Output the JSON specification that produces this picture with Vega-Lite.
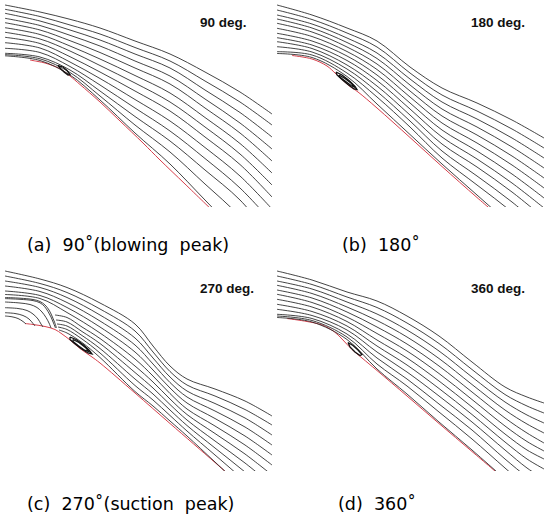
{
"$schema":"https://vega.github.io/schema/vega-lite/v6.json",
"padding":0,
"background":"white",
"config":{"view":{"stroke":null},"title":{"font":"DejaVu Sans","fontSize":17.5,"fontWeight":"normal","color":"#000"}},
"datasets":{
"labels":[
{"panel":"a","x":200,"y":26.5,"text":"90 deg."},
{"panel":"b","x":199,"y":26.5,"text":"180 deg."},
{"panel":"c","x":200,"y":26.5,"text":"270 deg."},
{"panel":"d","x":199,"y":26.5,"text":"360 deg."}
],
"surface":[
{"panel":"a","x":30,"y":60},{"panel":"a","x":38,"y":61.5},{"panel":"a","x":45,"y":63},{"panel":"a","x":55,"y":66.5},{"panel":"a","x":62,"y":70},{"panel":"a","x":70,"y":76},{"panel":"a","x":80,"y":84.5},{"panel":"a","x":100,"y":102},{"panel":"a","x":120,"y":121},{"panel":"a","x":143,"y":143},{"panel":"a","x":160,"y":160},{"panel":"a","x":185,"y":184},{"panel":"a","x":215,"y":213},
{"panel":"b","x":20,"y":55.5},{"panel":"b","x":40,"y":59},{"panel":"b","x":55,"y":66},{"panel":"b","x":63,"y":73},{"panel":"b","x":70,"y":79.5},{"panel":"b","x":78,"y":86.5},{"panel":"b","x":86,"y":92},{"panel":"b","x":105,"y":108},{"panel":"b","x":138,"y":137.5},{"panel":"b","x":170,"y":166.5},{"panel":"b","x":205,"y":197.5},{"panel":"b","x":230,"y":219},
{"panel":"c","x":25,"y":57.5},{"panel":"c","x":33,"y":58.5},{"panel":"c","x":45,"y":60.5},{"panel":"c","x":55,"y":63.5},{"panel":"c","x":62,"y":68},{"panel":"c","x":70,"y":74},{"panel":"c","x":80,"y":82.5},{"panel":"c","x":92,"y":91},{"panel":"c","x":100,"y":97},{"panel":"c","x":135,"y":127},{"panel":"c","x":170,"y":157.5},{"panel":"c","x":215,"y":196.5},{"panel":"c","x":235,"y":214},
{"panel":"d","x":15,"y":52.5},{"panel":"d","x":35,"y":55.5},{"panel":"d","x":50,"y":59},{"panel":"d","x":62,"y":65.5},{"panel":"d","x":70,"y":73},{"panel":"d","x":80,"y":83.5},{"panel":"d","x":90,"y":92},{"panel":"d","x":105,"y":104.5},{"panel":"d","x":135,"y":130},{"panel":"d","x":167,"y":157.5},{"panel":"d","x":200,"y":185.5},{"panel":"d","x":230,"y":211}
],
"bubbles":[
{"panel":"a","loop":"a1","seq":0,"x":58,"y":65.5},{"panel":"a","loop":"a1","seq":1,"x":63,"y":67},{"panel":"a","loop":"a1","seq":2,"x":67,"y":70.5},{"panel":"a","loop":"a1","seq":3,"x":70,"y":74.5},{"panel":"a","loop":"a1","seq":4,"x":68,"y":75},{"panel":"a","loop":"a1","seq":5,"x":64,"y":72},{"panel":"a","loop":"a1","seq":6,"x":60,"y":68},{"panel":"a","loop":"a1","seq":7,"x":58,"y":65.5},
{"panel":"b","loop":"b1","seq":0,"x":64,"y":72},{"panel":"b","loop":"b1","seq":1,"x":70,"y":75},{"panel":"b","loop":"b1","seq":2,"x":77,"y":80.5},{"panel":"b","loop":"b1","seq":3,"x":83,"y":86.5},{"panel":"b","loop":"b1","seq":4,"x":85,"y":89.5},{"panel":"b","loop":"b1","seq":5,"x":82,"y":89},{"panel":"b","loop":"b1","seq":6,"x":76,"y":84.5},{"panel":"b","loop":"b1","seq":7,"x":70,"y":79.5},{"panel":"b","loop":"b1","seq":8,"x":65,"y":75},{"panel":"b","loop":"b1","seq":9,"x":64,"y":72},
{"panel":"b","loop":"b2","seq":0,"x":67,"y":75},{"panel":"b","loop":"b2","seq":1,"x":73,"y":78.5},{"panel":"b","loop":"b2","seq":2,"x":79,"y":83},{"panel":"b","loop":"b2","seq":3,"x":83,"y":87.5},{"panel":"b","loop":"b2","seq":4,"x":79,"y":85.5},{"panel":"b","loop":"b2","seq":5,"x":73,"y":81},{"panel":"b","loop":"b2","seq":6,"x":67,"y":76.5},{"panel":"b","loop":"b2","seq":7,"x":67,"y":75},
{"panel":"c","loop":"c1","seq":0,"x":70,"y":71},{"panel":"c","loop":"c1","seq":1,"x":76,"y":73.5},{"panel":"c","loop":"c1","seq":2,"x":83,"y":78.5},{"panel":"c","loop":"c1","seq":3,"x":89,"y":84},{"panel":"c","loop":"c1","seq":4,"x":92,"y":88},{"panel":"c","loop":"c1","seq":5,"x":88,"y":87},{"panel":"c","loop":"c1","seq":6,"x":81,"y":82.5},{"panel":"c","loop":"c1","seq":7,"x":74,"y":77},{"panel":"c","loop":"c1","seq":8,"x":70,"y":73.5},{"panel":"c","loop":"c1","seq":9,"x":70,"y":71},
{"panel":"c","loop":"c2","seq":0,"x":73,"y":73.5},{"panel":"c","loop":"c2","seq":1,"x":79,"y":76.5},{"panel":"c","loop":"c2","seq":2,"x":86,"y":82},{"panel":"c","loop":"c2","seq":3,"x":89,"y":85.5},{"panel":"c","loop":"c2","seq":4,"x":85,"y":84.5},{"panel":"c","loop":"c2","seq":5,"x":78,"y":79.5},{"panel":"c","loop":"c2","seq":6,"x":73,"y":75.5},{"panel":"c","loop":"c2","seq":7,"x":73,"y":73.5},
{"panel":"d","loop":"d1","seq":0,"x":76,"y":76.5},{"panel":"d","loop":"d1","seq":1,"x":81,"y":79.5},{"panel":"d","loop":"d1","seq":2,"x":86,"y":84},{"panel":"d","loop":"d1","seq":3,"x":90,"y":88.5},{"panel":"d","loop":"d1","seq":4,"x":88,"y":89.5},{"panel":"d","loop":"d1","seq":5,"x":83,"y":86},{"panel":"d","loop":"d1","seq":6,"x":78,"y":81},{"panel":"d","loop":"d1","seq":7,"x":76,"y":76.5}
],
"streams":[
{"panel":"a","line":"L0","x":5,"y":5},{"panel":"a","line":"L0","x":40,"y":12},{"panel":"a","line":"L0","x":70,"y":19.3},{"panel":"a","line":"L0","x":100,"y":28},{"panel":"a","line":"L0","x":135,"y":41},{"panel":"a","line":"L0","x":170,"y":54},{"panel":"a","line":"L0","x":205,"y":72},{"panel":"a","line":"L0","x":240,"y":92},{"panel":"a","line":"L0","x":272,"y":114},
{"panel":"a","line":"L1","x":5,"y":9.3},{"panel":"a","line":"L1","x":40,"y":16.5},{"panel":"a","line":"L1","x":70,"y":25},{"panel":"a","line":"L1","x":100,"y":34},{"panel":"a","line":"L1","x":135,"y":47.5},{"panel":"a","line":"L1","x":170,"y":61},{"panel":"a","line":"L1","x":205,"y":81},{"panel":"a","line":"L1","x":240,"y":102},{"panel":"a","line":"L1","x":272,"y":125},
{"panel":"a","line":"L2","x":5,"y":13.3},{"panel":"a","line":"L2","x":40,"y":21},{"panel":"a","line":"L2","x":70,"y":30},{"panel":"a","line":"L2","x":100,"y":40},{"panel":"a","line":"L2","x":135,"y":54},{"panel":"a","line":"L2","x":170,"y":68},{"panel":"a","line":"L2","x":205,"y":90},{"panel":"a","line":"L2","x":240,"y":112.5},{"panel":"a","line":"L2","x":272,"y":137},
{"panel":"a","line":"L3","x":5,"y":18.3},{"panel":"a","line":"L3","x":40,"y":25.5},{"panel":"a","line":"L3","x":70,"y":35.3},{"panel":"a","line":"L3","x":100,"y":46},{"panel":"a","line":"L3","x":135,"y":61},{"panel":"a","line":"L3","x":170,"y":76},{"panel":"a","line":"L3","x":205,"y":99},{"panel":"a","line":"L3","x":240,"y":123},{"panel":"a","line":"L3","x":272,"y":149},
{"panel":"a","line":"L4","x":5,"y":22.7},{"panel":"a","line":"L4","x":40,"y":30},{"panel":"a","line":"L4","x":70,"y":40.7},{"panel":"a","line":"L4","x":100,"y":52.5},{"panel":"a","line":"L4","x":135,"y":68},{"panel":"a","line":"L4","x":170,"y":84},{"panel":"a","line":"L4","x":205,"y":108},{"panel":"a","line":"L4","x":240,"y":133},{"panel":"a","line":"L4","x":272,"y":161},
{"panel":"a","line":"L5","x":5,"y":27.7},{"panel":"a","line":"L5","x":40,"y":34.5},{"panel":"a","line":"L5","x":70,"y":46},{"panel":"a","line":"L5","x":100,"y":59},{"panel":"a","line":"L5","x":135,"y":75.5},{"panel":"a","line":"L5","x":170,"y":93},{"panel":"a","line":"L5","x":205,"y":117.5},{"panel":"a","line":"L5","x":240,"y":143.5},{"panel":"a","line":"L5","x":272,"y":173},
{"panel":"a","line":"L6","x":5,"y":32.3},{"panel":"a","line":"L6","x":40,"y":39},{"panel":"a","line":"L6","x":70,"y":51},{"panel":"a","line":"L6","x":100,"y":65.5},{"panel":"a","line":"L6","x":135,"y":83},{"panel":"a","line":"L6","x":170,"y":102},{"panel":"a","line":"L6","x":205,"y":127},{"panel":"a","line":"L6","x":240,"y":154},{"panel":"a","line":"L6","x":272,"y":185},
{"panel":"a","line":"L7","x":5,"y":37.3},{"panel":"a","line":"L7","x":40,"y":43.5},{"panel":"a","line":"L7","x":70,"y":56.7},{"panel":"a","line":"L7","x":100,"y":72},{"panel":"a","line":"L7","x":135,"y":91},{"panel":"a","line":"L7","x":170,"y":111},{"panel":"a","line":"L7","x":205,"y":137},{"panel":"a","line":"L7","x":240,"y":164.5},{"panel":"a","line":"L7","x":272,"y":197},
{"panel":"a","line":"L8","x":5,"y":42.7},{"panel":"a","line":"L8","x":40,"y":48},{"panel":"a","line":"L8","x":70,"y":62},{"panel":"a","line":"L8","x":100,"y":78.5},{"panel":"a","line":"L8","x":135,"y":99.5},{"panel":"a","line":"L8","x":170,"y":121},{"panel":"a","line":"L8","x":205,"y":147.5},{"panel":"a","line":"L8","x":240,"y":176},{"panel":"a","line":"L8","x":272,"y":209},
{"panel":"a","line":"L9","x":5,"y":48.3},{"panel":"a","line":"L9","x":40,"y":52.5},{"panel":"a","line":"L9","x":70,"y":66.5},{"panel":"a","line":"L9","x":100,"y":85},{"panel":"a","line":"L9","x":135,"y":108},{"panel":"a","line":"L9","x":170,"y":131},{"panel":"a","line":"L9","x":205,"y":158.5},{"panel":"a","line":"L9","x":240,"y":188},{"panel":"a","line":"L9","x":272,"y":222},
{"panel":"a","line":"L10","x":5,"y":53.3},{"panel":"a","line":"L10","x":40,"y":57},{"panel":"a","line":"L10","x":70,"y":70},{"panel":"a","line":"L10","x":100,"y":91},{"panel":"a","line":"L10","x":135,"y":116.5},{"panel":"a","line":"L10","x":170,"y":141},{"panel":"a","line":"L10","x":205,"y":170},{"panel":"a","line":"L10","x":240,"y":200},{"panel":"a","line":"L10","x":272,"y":238},
{"panel":"a","line":"L11","x":5,"y":54.6},{"panel":"a","line":"L11","x":40,"y":58.8},{"panel":"a","line":"L11","x":70,"y":72.5},{"panel":"a","line":"L11","x":100,"y":96},{"panel":"a","line":"L11","x":135,"y":125},{"panel":"a","line":"L11","x":170,"y":152},{"panel":"a","line":"L11","x":205,"y":184},{"panel":"a","line":"L11","x":240,"y":216},{"panel":"a","line":"L11","x":272,"y":250},
{"panel":"a","line":"L12","x":5,"y":55.8},{"panel":"a","line":"L12","x":40,"y":60.5},{"panel":"a","line":"L12","x":70,"y":75},{"panel":"a","line":"L12","x":100,"y":100},{"panel":"a","line":"L12","x":135,"y":133},{"panel":"a","line":"L12","x":170,"y":164},{"panel":"a","line":"L12","x":205,"y":200},{"panel":"a","line":"L12","x":240,"y":236},{"panel":"a","line":"L12","x":272,"y":268},

{"panel":"b","line":"L0","x":5,"y":5},{"panel":"b","line":"L0","x":40,"y":15},{"panel":"b","line":"L0","x":75,"y":28},{"panel":"b","line":"L0","x":105,"y":41},{"panel":"b","line":"L0","x":138,"y":67},{"panel":"b","line":"L0","x":170,"y":88},{"panel":"b","line":"L0","x":205,"y":103},{"panel":"b","line":"L0","x":240,"y":120},{"panel":"b","line":"L0","x":272,"y":138},
{"panel":"b","line":"L1","x":5,"y":10},{"panel":"b","line":"L1","x":40,"y":19.5},{"panel":"b","line":"L1","x":75,"y":33},{"panel":"b","line":"L1","x":105,"y":47},{"panel":"b","line":"L1","x":138,"y":73},{"panel":"b","line":"L1","x":170,"y":95},{"panel":"b","line":"L1","x":205,"y":111},{"panel":"b","line":"L1","x":240,"y":129},{"panel":"b","line":"L1","x":272,"y":148},
{"panel":"b","line":"L2","x":5,"y":15},{"panel":"b","line":"L2","x":40,"y":24},{"panel":"b","line":"L2","x":75,"y":38},{"panel":"b","line":"L2","x":105,"y":53},{"panel":"b","line":"L2","x":138,"y":79},{"panel":"b","line":"L2","x":170,"y":102},{"panel":"b","line":"L2","x":205,"y":119},{"panel":"b","line":"L2","x":240,"y":138},{"panel":"b","line":"L2","x":272,"y":158},
{"panel":"b","line":"L3","x":5,"y":19},{"panel":"b","line":"L3","x":40,"y":28},{"panel":"b","line":"L3","x":75,"y":42.5},{"panel":"b","line":"L3","x":105,"y":58.5},{"panel":"b","line":"L3","x":138,"y":85},{"panel":"b","line":"L3","x":170,"y":109},{"panel":"b","line":"L3","x":205,"y":127},{"panel":"b","line":"L3","x":240,"y":147},{"panel":"b","line":"L3","x":272,"y":168},
{"panel":"b","line":"L4","x":5,"y":23.3},{"panel":"b","line":"L4","x":40,"y":32},{"panel":"b","line":"L4","x":75,"y":47},{"panel":"b","line":"L4","x":105,"y":64},{"panel":"b","line":"L4","x":138,"y":91},{"panel":"b","line":"L4","x":170,"y":116},{"panel":"b","line":"L4","x":205,"y":135},{"panel":"b","line":"L4","x":240,"y":156},{"panel":"b","line":"L4","x":272,"y":178},
{"panel":"b","line":"L5","x":5,"y":28.3},{"panel":"b","line":"L5","x":40,"y":36.5},{"panel":"b","line":"L5","x":75,"y":51.5},{"panel":"b","line":"L5","x":105,"y":69.5},{"panel":"b","line":"L5","x":138,"y":97},{"panel":"b","line":"L5","x":170,"y":123},{"panel":"b","line":"L5","x":205,"y":143},{"panel":"b","line":"L5","x":240,"y":165},{"panel":"b","line":"L5","x":272,"y":188},
{"panel":"b","line":"L6","x":5,"y":33.3},{"panel":"b","line":"L6","x":40,"y":41},{"panel":"b","line":"L6","x":75,"y":56},{"panel":"b","line":"L6","x":105,"y":75},{"panel":"b","line":"L6","x":138,"y":103},{"panel":"b","line":"L6","x":170,"y":130},{"panel":"b","line":"L6","x":205,"y":151},{"panel":"b","line":"L6","x":240,"y":174},{"panel":"b","line":"L6","x":272,"y":198},
{"panel":"b","line":"L7","x":5,"y":37.7},{"panel":"b","line":"L7","x":40,"y":45},{"panel":"b","line":"L7","x":75,"y":60.5},{"panel":"b","line":"L7","x":105,"y":80.5},{"panel":"b","line":"L7","x":138,"y":109},{"panel":"b","line":"L7","x":170,"y":137},{"panel":"b","line":"L7","x":205,"y":159},{"panel":"b","line":"L7","x":240,"y":183},{"panel":"b","line":"L7","x":272,"y":208},
{"panel":"b","line":"L8","x":5,"y":41.7},{"panel":"b","line":"L8","x":40,"y":48.5},{"panel":"b","line":"L8","x":75,"y":65},{"panel":"b","line":"L8","x":105,"y":86},{"panel":"b","line":"L8","x":138,"y":115},{"panel":"b","line":"L8","x":170,"y":144},{"panel":"b","line":"L8","x":205,"y":167},{"panel":"b","line":"L8","x":240,"y":192},{"panel":"b","line":"L8","x":272,"y":218},
{"panel":"b","line":"L9","x":5,"y":46.7},{"panel":"b","line":"L9","x":40,"y":52},{"panel":"b","line":"L9","x":75,"y":69},{"panel":"b","line":"L9","x":105,"y":91.5},{"panel":"b","line":"L9","x":138,"y":121},{"panel":"b","line":"L9","x":170,"y":151},{"panel":"b","line":"L9","x":205,"y":176},{"panel":"b","line":"L9","x":240,"y":202},{"panel":"b","line":"L9","x":272,"y":229},
{"panel":"b","line":"L10","x":5,"y":51.7},{"panel":"b","line":"L10","x":40,"y":55},{"panel":"b","line":"L10","x":75,"y":73},{"panel":"b","line":"L10","x":105,"y":97},{"panel":"b","line":"L10","x":138,"y":127},{"panel":"b","line":"L10","x":170,"y":158},{"panel":"b","line":"L10","x":205,"y":185},{"panel":"b","line":"L10","x":240,"y":212},{"panel":"b","line":"L10","x":272,"y":240},
{"panel":"b","line":"L11","x":5,"y":53.5},{"panel":"b","line":"L11","x":40,"y":57.5},{"panel":"b","line":"L11","x":75,"y":76.5},{"panel":"b","line":"L11","x":105,"y":104},{"panel":"b","line":"L11","x":138,"y":134.5},{"panel":"b","line":"L11","x":170,"y":164},{"panel":"b","line":"L11","x":205,"y":195},{"panel":"b","line":"L11","x":240,"y":226},{"panel":"b","line":"L11","x":272,"y":254},

{"panel":"c","line":"T0","x":5,"y":5},{"panel":"c","line":"T0","x":40,"y":13},{"panel":"c","line":"T0","x":67,"y":21.5},{"panel":"c","line":"T0","x":100,"y":37},{"panel":"c","line":"T0","x":135,"y":58},{"panel":"c","line":"T0","x":153,"y":80},{"panel":"c","line":"T0","x":170,"y":100},{"panel":"c","line":"T0","x":187,"y":113},{"panel":"c","line":"T0","x":215,"y":123},{"panel":"c","line":"T0","x":245,"y":135},{"panel":"c","line":"T0","x":272,"y":150},
{"panel":"c","line":"T1","x":5,"y":10},{"panel":"c","line":"T1","x":40,"y":17.5},{"panel":"c","line":"T1","x":67,"y":26.5},{"panel":"c","line":"T1","x":100,"y":43},{"panel":"c","line":"T1","x":135,"y":65},{"panel":"c","line":"T1","x":153,"y":86},{"panel":"c","line":"T1","x":170,"y":105.5},{"panel":"c","line":"T1","x":187,"y":119},{"panel":"c","line":"T1","x":215,"y":130},{"panel":"c","line":"T1","x":245,"y":143.5},{"panel":"c","line":"T1","x":272,"y":159},
{"panel":"c","line":"T2","x":5,"y":15},{"panel":"c","line":"T2","x":40,"y":21.5},{"panel":"c","line":"T2","x":67,"y":31.5},{"panel":"c","line":"T2","x":100,"y":49},{"panel":"c","line":"T2","x":135,"y":72},{"panel":"c","line":"T2","x":153,"y":92},{"panel":"c","line":"T2","x":170,"y":111},{"panel":"c","line":"T2","x":187,"y":125},{"panel":"c","line":"T2","x":215,"y":137.5},{"panel":"c","line":"T2","x":245,"y":152},{"panel":"c","line":"T2","x":272,"y":169},
{"panel":"c","line":"T3","x":5,"y":20},{"panel":"c","line":"T3","x":40,"y":25.5},{"panel":"c","line":"T3","x":67,"y":36.5},{"panel":"c","line":"T3","x":100,"y":55},{"panel":"c","line":"T3","x":135,"y":79},{"panel":"c","line":"T3","x":153,"y":98},{"panel":"c","line":"T3","x":170,"y":116.5},{"panel":"c","line":"T3","x":187,"y":131},{"panel":"c","line":"T3","x":215,"y":145},{"panel":"c","line":"T3","x":245,"y":161},{"panel":"c","line":"T3","x":272,"y":179},
{"panel":"c","line":"T4","x":5,"y":25},{"panel":"c","line":"T4","x":40,"y":29.5},{"panel":"c","line":"T4","x":67,"y":41.5},{"panel":"c","line":"T4","x":100,"y":61},{"panel":"c","line":"T4","x":135,"y":86},{"panel":"c","line":"T4","x":153,"y":104},{"panel":"c","line":"T4","x":170,"y":122},{"panel":"c","line":"T4","x":187,"y":137},{"panel":"c","line":"T4","x":215,"y":152.5},{"panel":"c","line":"T4","x":245,"y":170},{"panel":"c","line":"T4","x":272,"y":189},
{"panel":"c","line":"T5","x":5,"y":28.5},{"panel":"c","line":"T5","x":40,"y":32.5},{"panel":"c","line":"T5","x":67,"y":46.5},{"panel":"c","line":"T5","x":100,"y":67},{"panel":"c","line":"T5","x":135,"y":93},{"panel":"c","line":"T5","x":153,"y":110},{"panel":"c","line":"T5","x":170,"y":127.5},{"panel":"c","line":"T5","x":187,"y":143},{"panel":"c","line":"T5","x":215,"y":160},{"panel":"c","line":"T5","x":245,"y":179},{"panel":"c","line":"T5","x":272,"y":199},
{"panel":"c","line":"S0","x":55,"y":49},{"panel":"c","line":"S0","x":67,"y":51.5},{"panel":"c","line":"S0","x":82,"y":61},{"panel":"c","line":"S0","x":100,"y":72.5},{"panel":"c","line":"S0","x":135,"y":100},{"panel":"c","line":"S0","x":153,"y":116},{"panel":"c","line":"S0","x":170,"y":133},{"panel":"c","line":"S0","x":187,"y":148.5},{"panel":"c","line":"S0","x":215,"y":167.5},{"panel":"c","line":"S0","x":245,"y":188},{"panel":"c","line":"S0","x":272,"y":209},
{"panel":"c","line":"S1","x":56,"y":54},{"panel":"c","line":"S1","x":67,"y":56},{"panel":"c","line":"S1","x":82,"y":65.5},{"panel":"c","line":"S1","x":100,"y":77.5},{"panel":"c","line":"S1","x":135,"y":106.5},{"panel":"c","line":"S1","x":153,"y":122},{"panel":"c","line":"S1","x":170,"y":138.5},{"panel":"c","line":"S1","x":187,"y":154},{"panel":"c","line":"S1","x":215,"y":175},{"panel":"c","line":"S1","x":245,"y":197},{"panel":"c","line":"S1","x":272,"y":219},
{"panel":"c","line":"S2","x":57,"y":58},{"panel":"c","line":"S2","x":67,"y":60},{"panel":"c","line":"S2","x":82,"y":69.5},{"panel":"c","line":"S2","x":100,"y":82.5},{"panel":"c","line":"S2","x":135,"y":113},{"panel":"c","line":"S2","x":153,"y":128},{"panel":"c","line":"S2","x":170,"y":144},{"panel":"c","line":"S2","x":187,"y":159.5},{"panel":"c","line":"S2","x":215,"y":182},{"panel":"c","line":"S2","x":245,"y":206},{"panel":"c","line":"S2","x":272,"y":229},
{"panel":"c","line":"S3","x":58,"y":61},{"panel":"c","line":"S3","x":67,"y":63.5},{"panel":"c","line":"S3","x":82,"y":73},{"panel":"c","line":"S3","x":100,"y":87},{"panel":"c","line":"S3","x":135,"y":119.5},{"panel":"c","line":"S3","x":153,"y":134},{"panel":"c","line":"S3","x":170,"y":149.5},{"panel":"c","line":"S3","x":187,"y":165},{"panel":"c","line":"S3","x":215,"y":189},{"panel":"c","line":"S3","x":245,"y":215},{"panel":"c","line":"S3","x":272,"y":239},
{"panel":"c","line":"S4","x":59,"y":64},{"panel":"c","line":"S4","x":67,"y":67},{"panel":"c","line":"S4","x":82,"y":76.5},{"panel":"c","line":"S4","x":100,"y":91.5},{"panel":"c","line":"S4","x":135,"y":125.5},{"panel":"c","line":"S4","x":153,"y":140},{"panel":"c","line":"S4","x":170,"y":155},{"panel":"c","line":"S4","x":187,"y":170},{"panel":"c","line":"S4","x":215,"y":196},{"panel":"c","line":"S4","x":245,"y":224},{"panel":"c","line":"S4","x":272,"y":249},
{"panel":"c","line":"R0","x":5,"y":31.5},{"panel":"c","line":"R0","x":20,"y":32.2},{"panel":"c","line":"R0","x":33,"y":33.5},{"panel":"c","line":"R0","x":40,"y":35.5},{"panel":"c","line":"R0","x":45,"y":39},{"panel":"c","line":"R0","x":49,"y":44},{"panel":"c","line":"R0","x":52,"y":50},{"panel":"c","line":"R0","x":54.5,"y":56},{"panel":"c","line":"R0","x":56.5,"y":62},
{"panel":"c","line":"R0b","x":5,"y":32.6},{"panel":"c","line":"R0b","x":20,"y":33.3},{"panel":"c","line":"R0b","x":33,"y":34.6},{"panel":"c","line":"R0b","x":40,"y":36.8},{"panel":"c","line":"R0b","x":44.5,"y":40.5},{"panel":"c","line":"R0b","x":48,"y":45.5},{"panel":"c","line":"R0b","x":51,"y":51},{"panel":"c","line":"R0b","x":53.5,"y":57},{"panel":"c","line":"R0b","x":55.5,"y":62},
{"panel":"c","line":"R1","x":5,"y":36},{"panel":"c","line":"R1","x":20,"y":37},{"panel":"c","line":"R1","x":30,"y":38.5},{"panel":"c","line":"R1","x":37,"y":41.5},{"panel":"c","line":"R1","x":42,"y":46},{"panel":"c","line":"R1","x":46,"y":51.5},{"panel":"c","line":"R1","x":49,"y":57},{"panel":"c","line":"R1","x":51,"y":62},
{"panel":"c","line":"R2","x":5,"y":41.7},{"panel":"c","line":"R2","x":18,"y":42.5},{"panel":"c","line":"R2","x":27,"y":44.5},{"panel":"c","line":"R2","x":33,"y":48},{"panel":"c","line":"R2","x":38,"y":53},{"panel":"c","line":"R2","x":41,"y":58},{"panel":"c","line":"R2","x":43,"y":61},
{"panel":"c","line":"R3","x":5,"y":46.7},{"panel":"c","line":"R3","x":15,"y":47.5},{"panel":"c","line":"R3","x":23,"y":49.5},{"panel":"c","line":"R3","x":29,"y":53},{"panel":"c","line":"R3","x":33,"y":57.5},{"panel":"c","line":"R3","x":35,"y":60},
{"panel":"c","line":"R4","x":5,"y":50},{"panel":"c","line":"R4","x":12,"y":50.8},{"panel":"c","line":"R4","x":18,"y":52.5},{"panel":"c","line":"R4","x":23,"y":55.5},{"panel":"c","line":"R4","x":26,"y":58},

{"panel":"d","line":"L0","x":5,"y":5},{"panel":"d","line":"L0","x":40,"y":14},{"panel":"d","line":"L0","x":75,"y":26},{"panel":"d","line":"L0","x":105,"y":35},{"panel":"d","line":"L0","x":135,"y":50},{"panel":"d","line":"L0","x":167,"y":70},{"panel":"d","line":"L0","x":200,"y":96},{"panel":"d","line":"L0","x":233,"y":121},{"panel":"d","line":"L0","x":255,"y":131},{"panel":"d","line":"L0","x":272,"y":137},
{"panel":"d","line":"L1","x":5,"y":10},{"panel":"d","line":"L1","x":40,"y":18.5},{"panel":"d","line":"L1","x":75,"y":31},{"panel":"d","line":"L1","x":105,"y":41.5},{"panel":"d","line":"L1","x":135,"y":57},{"panel":"d","line":"L1","x":167,"y":77.5},{"panel":"d","line":"L1","x":200,"y":103.5},{"panel":"d","line":"L1","x":233,"y":128.5},{"panel":"d","line":"L1","x":255,"y":140},{"panel":"d","line":"L1","x":272,"y":147},
{"panel":"d","line":"L2","x":5,"y":15},{"panel":"d","line":"L2","x":40,"y":23},{"panel":"d","line":"L2","x":75,"y":36},{"panel":"d","line":"L2","x":105,"y":48},{"panel":"d","line":"L2","x":135,"y":64},{"panel":"d","line":"L2","x":167,"y":85},{"panel":"d","line":"L2","x":200,"y":111},{"panel":"d","line":"L2","x":233,"y":136},{"panel":"d","line":"L2","x":255,"y":149},{"panel":"d","line":"L2","x":272,"y":157},
{"panel":"d","line":"L3","x":5,"y":19.3},{"panel":"d","line":"L3","x":40,"y":27.5},{"panel":"d","line":"L3","x":75,"y":41},{"panel":"d","line":"L3","x":105,"y":54.5},{"panel":"d","line":"L3","x":135,"y":71},{"panel":"d","line":"L3","x":167,"y":92.5},{"panel":"d","line":"L3","x":200,"y":118.5},{"panel":"d","line":"L3","x":233,"y":144},{"panel":"d","line":"L3","x":255,"y":158},{"panel":"d","line":"L3","x":272,"y":167},
{"panel":"d","line":"L4","x":5,"y":24},{"panel":"d","line":"L4","x":40,"y":32},{"panel":"d","line":"L4","x":75,"y":46},{"panel":"d","line":"L4","x":105,"y":61},{"panel":"d","line":"L4","x":135,"y":78},{"panel":"d","line":"L4","x":167,"y":100},{"panel":"d","line":"L4","x":200,"y":126},{"panel":"d","line":"L4","x":233,"y":152},{"panel":"d","line":"L4","x":255,"y":167},{"panel":"d","line":"L4","x":272,"y":177},
{"panel":"d","line":"L5","x":5,"y":28.3},{"panel":"d","line":"L5","x":40,"y":36.5},{"panel":"d","line":"L5","x":75,"y":51},{"panel":"d","line":"L5","x":105,"y":67.5},{"panel":"d","line":"L5","x":135,"y":85},{"panel":"d","line":"L5","x":167,"y":107.5},{"panel":"d","line":"L5","x":200,"y":133.5},{"panel":"d","line":"L5","x":233,"y":160},{"panel":"d","line":"L5","x":255,"y":175.5},{"panel":"d","line":"L5","x":272,"y":185},
{"panel":"d","line":"L6","x":5,"y":33.3},{"panel":"d","line":"L6","x":40,"y":41},{"panel":"d","line":"L6","x":75,"y":55.5},{"panel":"d","line":"L6","x":105,"y":74},{"panel":"d","line":"L6","x":135,"y":92},{"panel":"d","line":"L6","x":167,"y":115},{"panel":"d","line":"L6","x":200,"y":141},{"panel":"d","line":"L6","x":233,"y":168},{"panel":"d","line":"L6","x":255,"y":184},{"panel":"d","line":"L6","x":272,"y":193},
{"panel":"d","line":"L7","x":5,"y":38.3},{"panel":"d","line":"L7","x":40,"y":45.5},{"panel":"d","line":"L7","x":75,"y":60},{"panel":"d","line":"L7","x":105,"y":80},{"panel":"d","line":"L7","x":135,"y":99},{"panel":"d","line":"L7","x":167,"y":122.5},{"panel":"d","line":"L7","x":200,"y":148.5},{"panel":"d","line":"L7","x":233,"y":176},{"panel":"d","line":"L7","x":255,"y":193},{"panel":"d","line":"L7","x":272,"y":203},
{"panel":"d","line":"L8","x":5,"y":43.3},{"panel":"d","line":"L8","x":40,"y":49.5},{"panel":"d","line":"L8","x":75,"y":64},{"panel":"d","line":"L8","x":105,"y":86},{"panel":"d","line":"L8","x":135,"y":106},{"panel":"d","line":"L8","x":167,"y":130},{"panel":"d","line":"L8","x":200,"y":156},{"panel":"d","line":"L8","x":233,"y":184},{"panel":"d","line":"L8","x":255,"y":202},{"panel":"d","line":"L8","x":272,"y":213},
{"panel":"d","line":"L9","x":5,"y":48.3},{"panel":"d","line":"L9","x":40,"y":52.5},{"panel":"d","line":"L9","x":75,"y":68},{"panel":"d","line":"L9","x":105,"y":92},{"panel":"d","line":"L9","x":135,"y":113},{"panel":"d","line":"L9","x":167,"y":138},{"panel":"d","line":"L9","x":200,"y":164},{"panel":"d","line":"L9","x":233,"y":193},{"panel":"d","line":"L9","x":255,"y":211},{"panel":"d","line":"L9","x":272,"y":223},
{"panel":"d","line":"L10","x":5,"y":50},{"panel":"d","line":"L10","x":40,"y":54.5},{"panel":"d","line":"L10","x":75,"y":71},{"panel":"d","line":"L10","x":105,"y":98},{"panel":"d","line":"L10","x":135,"y":120},{"panel":"d","line":"L10","x":167,"y":146},{"panel":"d","line":"L10","x":200,"y":173},{"panel":"d","line":"L10","x":233,"y":202},{"panel":"d","line":"L10","x":255,"y":221},{"panel":"d","line":"L10","x":272,"y":234},
{"panel":"d","line":"L11","x":5,"y":51.5},{"panel":"d","line":"L11","x":40,"y":56},{"panel":"d","line":"L11","x":75,"y":73.5},{"panel":"d","line":"L11","x":105,"y":103},{"panel":"d","line":"L11","x":135,"y":128},{"panel":"d","line":"L11","x":167,"y":156},{"panel":"d","line":"L11","x":200,"y":184},{"panel":"d","line":"L11","x":233,"y":213},{"panel":"d","line":"L11","x":255,"y":232},{"panel":"d","line":"L11","x":272,"y":246}
]
},
"spacing":11,
"vconcat":[
{"spacing":0,"hconcat":[
{"width":272,"height":207,
 "title":{"text":"(a)\u00a0 90˚(blowing\u00a0 peak)","orient":"bottom","anchor":"start","dx":27,"offset":30},
 "layer":[
  {"data":{"name":"surface"},"transform":[{"filter":"datum.panel === 'a'"}],"mark":{"type":"line","clip":true,"interpolate":"catmull-rom","color":"#d8404c","strokeWidth":1},
   "encoding":{"x":{"field":"x","type":"quantitative","scale":{"domain":[0,272],"nice":false},"axis":null},"y":{"field":"y","type":"quantitative","scale":{"domain":[0,207],"nice":false,"reverse":true},"axis":null}}},
  {"data":{"name":"streams"},"transform":[{"filter":"datum.panel === 'a'"}],"mark":{"type":"line","clip":true,"interpolate":"catmull-rom","color":"#222","strokeWidth":0.85},
   "encoding":{"x":{"field":"x","type":"quantitative"},"y":{"field":"y","type":"quantitative"},"detail":{"field":"line","type":"nominal"}}},
  {"data":{"name":"bubbles"},"transform":[{"filter":"datum.panel === 'a'"}],"mark":{"type":"line","clip":true,"interpolate":"linear","color":"#111","strokeWidth":1.3},
   "encoding":{"x":{"field":"x","type":"quantitative"},"y":{"field":"y","type":"quantitative"},"detail":{"field":"loop","type":"nominal"},"order":{"field":"seq","type":"quantitative"}}},
  {"data":{"name":"labels"},"transform":[{"filter":"datum.panel === 'a'"}],"mark":{"type":"text","align":"left","baseline":"alphabetic","font":"Liberation Sans","fontWeight":"bold","fontSize":13.5,"color":"#111"},
   "encoding":{"x":{"field":"x","type":"quantitative"},"y":{"field":"y","type":"quantitative"},"text":{"field":"text"}}}
 ]},
{"width":272,"height":207,
 "title":{"text":"(b)\u00a0 180˚","orient":"bottom","anchor":"start","dx":70,"offset":30},
 "layer":[
  {"data":{"name":"surface"},"transform":[{"filter":"datum.panel === 'b'"}],"mark":{"type":"line","clip":true,"interpolate":"catmull-rom","color":"#d8404c","strokeWidth":1},
   "encoding":{"x":{"field":"x","type":"quantitative","scale":{"domain":[0,272],"nice":false},"axis":null},"y":{"field":"y","type":"quantitative","scale":{"domain":[0,207],"nice":false,"reverse":true},"axis":null}}},
  {"data":{"name":"streams"},"transform":[{"filter":"datum.panel === 'b'"}],"mark":{"type":"line","clip":true,"interpolate":"catmull-rom","color":"#222","strokeWidth":0.85},
   "encoding":{"x":{"field":"x","type":"quantitative"},"y":{"field":"y","type":"quantitative"},"detail":{"field":"line","type":"nominal"}}},
  {"data":{"name":"bubbles"},"transform":[{"filter":"datum.panel === 'b'"}],"mark":{"type":"line","clip":true,"interpolate":"linear","color":"#111","strokeWidth":1.3},
   "encoding":{"x":{"field":"x","type":"quantitative"},"y":{"field":"y","type":"quantitative"},"detail":{"field":"loop","type":"nominal"},"order":{"field":"seq","type":"quantitative"}}},
  {"data":{"name":"labels"},"transform":[{"filter":"datum.panel === 'b'"}],"mark":{"type":"text","align":"left","baseline":"alphabetic","font":"Liberation Sans","fontWeight":"bold","fontSize":13.5,"color":"#111"},
   "encoding":{"x":{"field":"x","type":"quantitative"},"y":{"field":"y","type":"quantitative"},"text":{"field":"text"}}}
 ]}
]},
{"spacing":0,"hconcat":[
{"width":272,"height":205,
 "title":{"text":"(c)\u00a0 270˚(suction\u00a0 peak)","orient":"bottom","anchor":"start","dx":27,"offset":25},
 "layer":[
  {"data":{"name":"surface"},"transform":[{"filter":"datum.panel === 'c'"}],"mark":{"type":"line","clip":true,"interpolate":"catmull-rom","color":"#d8404c","strokeWidth":1},
   "encoding":{"x":{"field":"x","type":"quantitative","scale":{"domain":[0,272],"nice":false},"axis":null},"y":{"field":"y","type":"quantitative","scale":{"domain":[0,205],"nice":false,"reverse":true},"axis":null}}},
  {"data":{"name":"streams"},"transform":[{"filter":"datum.panel === 'c'"}],"mark":{"type":"line","clip":true,"interpolate":"catmull-rom","color":"#222","strokeWidth":0.85},
   "encoding":{"x":{"field":"x","type":"quantitative"},"y":{"field":"y","type":"quantitative"},"detail":{"field":"line","type":"nominal"}}},
  {"data":{"name":"bubbles"},"transform":[{"filter":"datum.panel === 'c'"}],"mark":{"type":"line","clip":true,"interpolate":"linear","color":"#111","strokeWidth":1.3},
   "encoding":{"x":{"field":"x","type":"quantitative"},"y":{"field":"y","type":"quantitative"},"detail":{"field":"loop","type":"nominal"},"order":{"field":"seq","type":"quantitative"}}},
  {"data":{"name":"labels"},"transform":[{"filter":"datum.panel === 'c'"}],"mark":{"type":"text","align":"left","baseline":"alphabetic","font":"Liberation Sans","fontWeight":"bold","fontSize":13.5,"color":"#111"},
   "encoding":{"x":{"field":"x","type":"quantitative"},"y":{"field":"y","type":"quantitative"},"text":{"field":"text"}}}
 ]},
{"width":272,"height":205,
 "title":{"text":"(d)\u00a0 360˚","orient":"bottom","anchor":"start","dx":66,"offset":25},
 "layer":[
  {"data":{"name":"surface"},"transform":[{"filter":"datum.panel === 'd'"}],"mark":{"type":"line","clip":true,"interpolate":"catmull-rom","color":"#d8404c","strokeWidth":1},
   "encoding":{"x":{"field":"x","type":"quantitative","scale":{"domain":[0,272],"nice":false},"axis":null},"y":{"field":"y","type":"quantitative","scale":{"domain":[0,205],"nice":false,"reverse":true},"axis":null}}},
  {"data":{"name":"streams"},"transform":[{"filter":"datum.panel === 'd'"}],"mark":{"type":"line","clip":true,"interpolate":"catmull-rom","color":"#222","strokeWidth":0.85},
   "encoding":{"x":{"field":"x","type":"quantitative"},"y":{"field":"y","type":"quantitative"},"detail":{"field":"line","type":"nominal"}}},
  {"data":{"name":"bubbles"},"transform":[{"filter":"datum.panel === 'd'"}],"mark":{"type":"line","clip":true,"interpolate":"linear","color":"#111","strokeWidth":1.3},
   "encoding":{"x":{"field":"x","type":"quantitative"},"y":{"field":"y","type":"quantitative"},"detail":{"field":"loop","type":"nominal"},"order":{"field":"seq","type":"quantitative"}}},
  {"data":{"name":"labels"},"transform":[{"filter":"datum.panel === 'd'"}],"mark":{"type":"text","align":"left","baseline":"alphabetic","font":"Liberation Sans","fontWeight":"bold","fontSize":13.5,"color":"#111"},
   "encoding":{"x":{"field":"x","type":"quantitative"},"y":{"field":"y","type":"quantitative"},"text":{"field":"text"}}}
 ]}
]}
]
}
